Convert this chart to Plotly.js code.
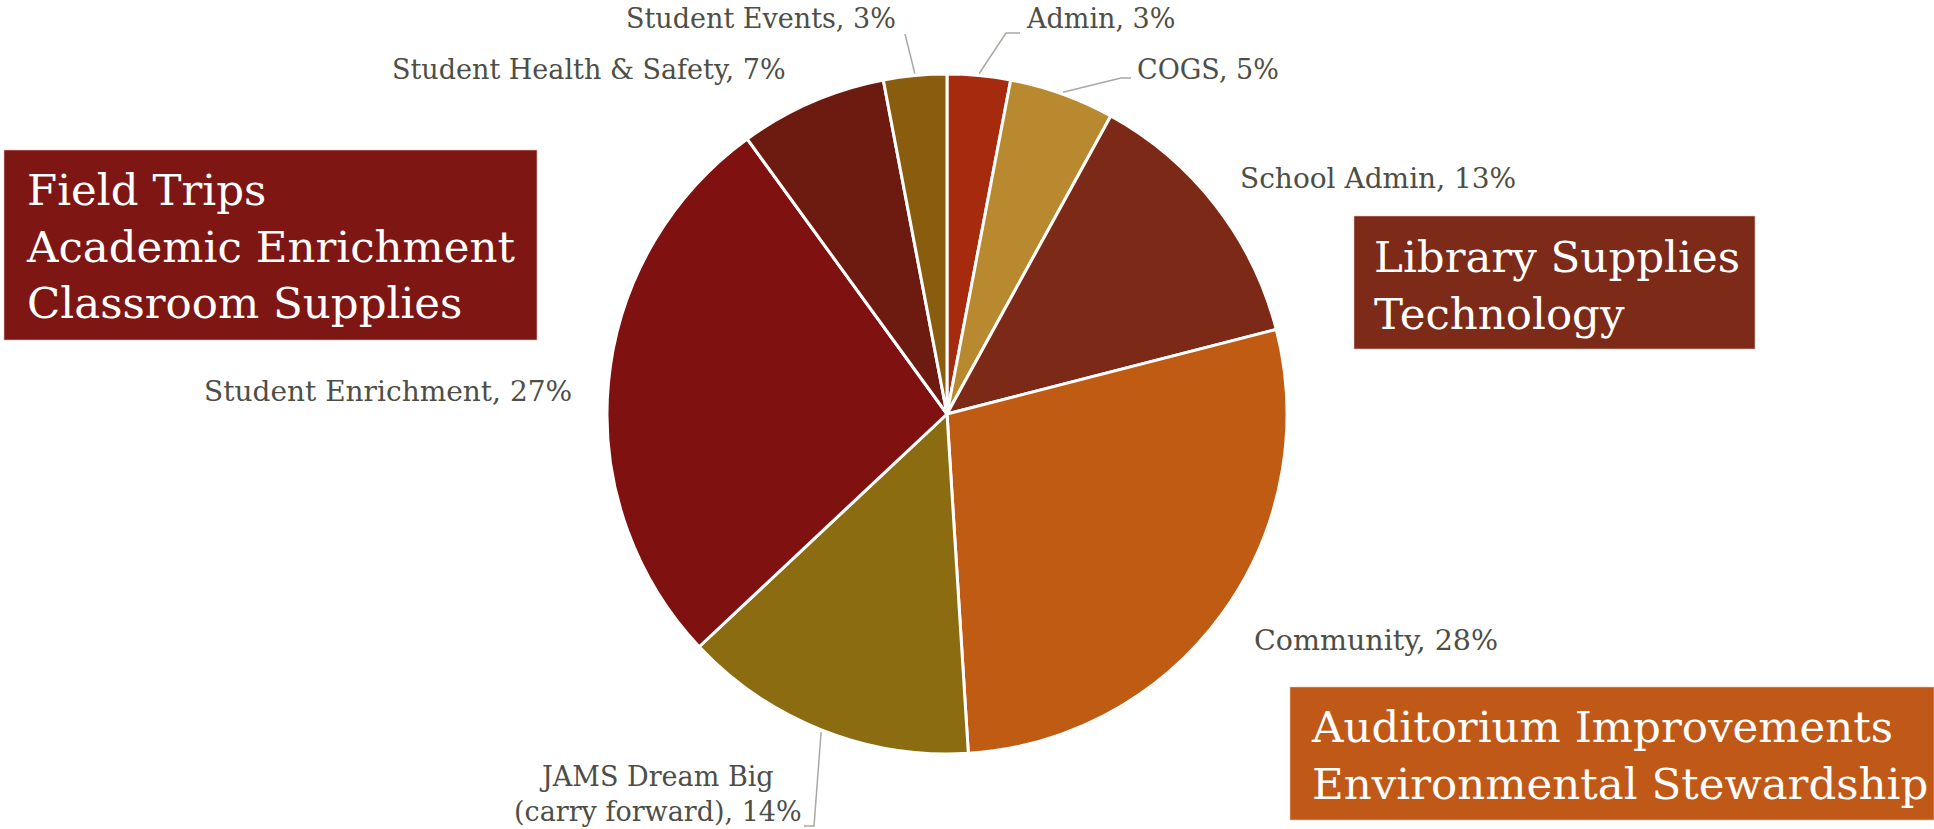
<!DOCTYPE html>
<html><head><meta charset="utf-8">
<script src="https://cdn.plot.ly/plotly-3.0.1.min.js"></script>
<style>html,body{margin:0;padding:0;background:#fff;overflow:hidden}#chart{width:1934px;height:829px}</style>
</head><body><div id="chart"></div>
<script>
// ---- data ----
const categories = ["Admin", "COGS", "School Admin", "Community", "JAMS Dream Big<br>(carry forward)", "Student Enrichment", "Student Health & Safety", "Student Events"];
const shares = [3, 5, 13, 28, 14, 27, 7, 3];
const sliceColors = ["#a62b0e", "#b8892f", "#7c2a17", "#c05b14", "#8c6c11", "#7f1211", "#6d1b10", "#8a5c0d"];
const boxLines = [
  ["Field Trips", "Academic Enrichment", "Classroom Supplies"],
  ["Library Supplies", "Technology"],
  ["Auditorium Improvements", "Environmental Stewardship"]
];
const boxColors = ["#7e1613", "#7d2a18", "#c05917"];

// ---- layout geometry (pixels) ----
const W = 1934, H = 829, CX = 947, CY = 414, R = 340;
const px = x => x / W, py = y => 1 - y / H;

const labelPos = [
  {x: 1024, y: 18, a: "left", s: 27},
  {x: 1135, y: 70, a: "left", s: 27},
  {x: 1238, y: 178, a: "left", s: 28},
  {x: 1252, y: 640, a: "left", s: 28.5},
  {x: 804, y: 794, a: "right", s: 27},
  {x: 574, y: 392, a: "right", s: 28},
  {x: 788, y: 70, a: "right", s: 27},
  {x: 898, y: 18, a: "right", s: 27}
];
const leaderElbows = {0: [[1020, 33], [1006, 33]], 1: [[1131, 78], [1121, 78]], 4: [[804, 826], [814, 826]], 7: [[905, 34]]};
const boxRects = [[4, 150, 537, 340], [1354, 216, 1755, 349], [1290, 687, 1934, 820]];
const boxText = [[24, 247], [1372, 285], [1309, 755]];

const total = shares.reduce((a, b) => a + b, 0);
function edgePoint(i, rr) {
  let cum = 0;
  for (let k = 0; k < i; k++) cum += shares[k];
  const th = (cum + shares[i] / 2) / total * 2 * Math.PI;
  return [CX + rr * Math.sin(th), CY - rr * Math.cos(th)];
}

const FONT = "DejaVu Serif";
const annotations = [];
const shapes = [];

categories.forEach((c, i) => {
  const p = labelPos[i];
  annotations.push({
    xref: "paper", yref: "paper", x: px(p.x), y: py(p.y),
    xanchor: p.a, yanchor: "middle", align: "center", showarrow: false,
    text: c + ", " + shares[i] + "%",
    font: {family: FONT, size: p.s, color: "#4d4e46"}
  });
  if (leaderElbows[i]) {
    const pts = leaderElbows[i].concat([edgePoint(i, R + 2)]);
    const d = pts.map((q, k) => (k ? "L" : "M") + px(q[0]) + "," + py(q[1])).join(" ");
    shapes.push({type: "path", xref: "paper", yref: "paper", path: d, line: {color: "#a9a9a3", width: 1.5}});
  }
});

boxLines.forEach((lines, j) => {
  const b = boxRects[j];
  shapes.push({type: "rect", xref: "paper", yref: "paper", x0: px(b[0]), x1: px(b[2]), y0: py(b[3]), y1: py(b[1]),
    fillcolor: boxColors[j], line: {color: "rgba(230,190,180,0.6)", width: 1}, layer: "below"});
  annotations.push({
    xref: "paper", yref: "paper", x: px(boxText[j][0]), y: py(boxText[j][1]),
    xanchor: "left", yanchor: "middle", align: "left", showarrow: false,
    text: lines.join("<br>"),
    font: {family: FONT, size: 43.5, color: "#ffffff"}
  });
});

const trace = {
  type: "pie", labels: categories, values: shares, sort: false, direction: "clockwise", rotation: 0,
  marker: {colors: sliceColors, line: {color: "#ffffff", width: 3}},
  textinfo: "none", hoverinfo: "none",
  domain: {x: [px(CX - R), px(CX + R)], y: [py(CY + R), py(CY - R)]}
};

Plotly.newPlot("chart", [trace], {
  width: W, height: H, margin: {l: 0, r: 0, t: 0, b: 0},
  paper_bgcolor: "#ffffff", showlegend: false,
  annotations: annotations, shapes: shapes
}, {displayModeBar: false, staticPlot: true});
</script></body></html>
